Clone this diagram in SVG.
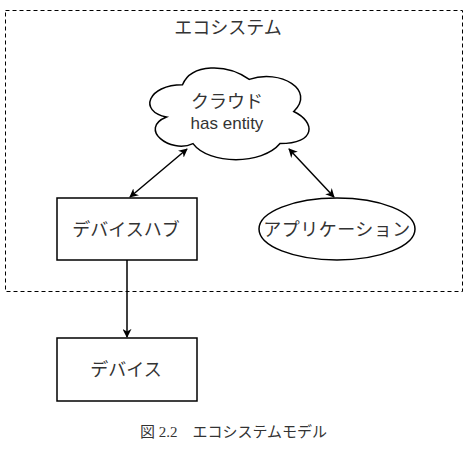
<svg xmlns="http://www.w3.org/2000/svg" width="468" height="451" viewBox="0 0 468 451">
<defs>
<style>
.jp{font-family:"Liberation Sans","Noto Sans CJK JP",sans-serif;font-size:18px;fill:#333;text-anchor:middle}
.shape{fill:#fff;stroke:#000;stroke-width:1.5}
.edge{fill:none;stroke:#000;stroke-width:1.5}
</style>
<marker id="ah" viewBox="0 0 10 10" refX="9" refY="5" markerWidth="9" markerHeight="9" orient="auto-start-reverse" markerUnits="userSpaceOnUse">
<path d="M0,0 L10,5 L0,10 L3,5 Z" fill="#000"/>
</marker>
</defs>
<rect width="468" height="451" fill="#fff"/>
<g id="ecosystem">
<rect x="5.5" y="10.5" width="457" height="281" fill="none" stroke="#000" stroke-width="1" stroke-dasharray="4,3"/>
<text class="jp" x="228" y="34">エコシステム</text>
</g>
<g id="cloud">
<path class="shape" d="M182.5,84.75 C147.9,84.75 138,111.5 166.5,117 C138,128.6 170,154.3 193,143.6 C209,165 262.4,165 280,143.6 C316,143.6 316,122.2 293.75,111.5 C316,90 280.4,68.7 249.25,79.4 C227,63.3 191.4,63.3 182.5,84.75 Z"/>
<text class="jp" x="227" y="108">クラウド</text>
<text class="jp" x="227" y="129" style="font-size:17px">has entity</text>
</g>
<g id="hub">
<rect class="shape" x="57" y="198" width="140" height="62"/>
<text class="jp" x="126" y="236">デバイスハブ</text>
</g>
<g id="app">
<ellipse class="shape" cx="337" cy="229" rx="78" ry="31"/>
<text class="jp" x="337" y="236" style="letter-spacing:0.5px">アプリケーション</text>
</g>
<g id="device">
<rect class="shape" x="57" y="338" width="140" height="63"/>
<text class="jp" x="126" y="376">デバイス</text>
</g>
<g id="connectors">
<line class="edge" x1="187" y1="149" x2="130" y2="197" marker-start="url(#ah)" marker-end="url(#ah)"/>
<line class="edge" x1="289" y1="149" x2="334" y2="197" marker-start="url(#ah)" marker-end="url(#ah)"/>
<line class="edge" x1="127" y1="260" x2="127" y2="337" marker-end="url(#ah)"/>
</g>
<text x="140" y="437" font-family="'Liberation Serif','Noto Sans CJK JP',serif" font-size="15" fill="#333">図 2.2　エコシステムモデル</text>
</svg>
